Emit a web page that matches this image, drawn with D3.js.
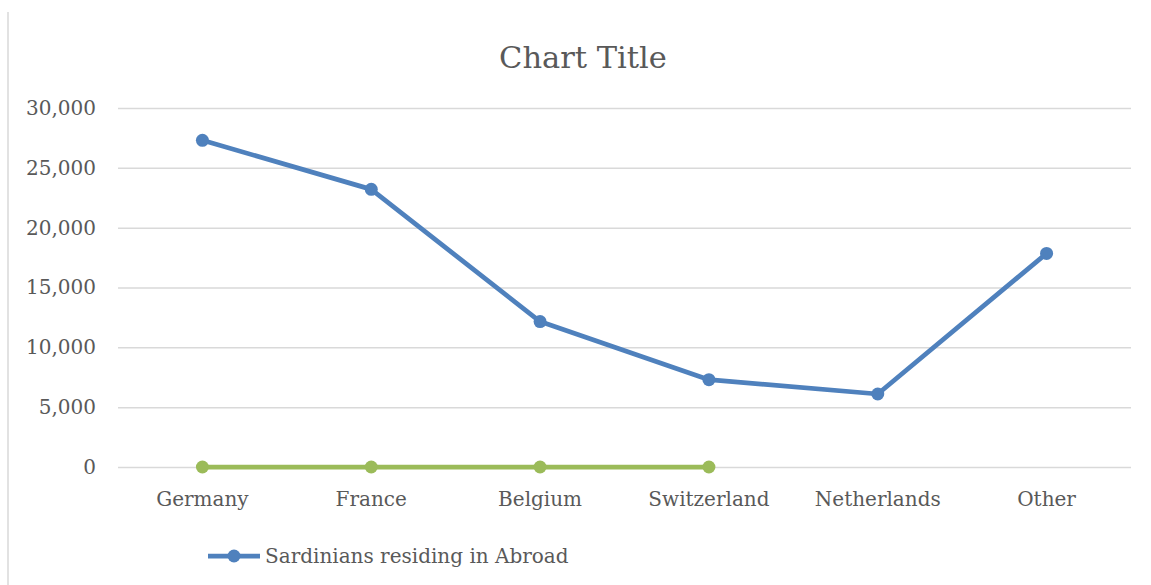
<!DOCTYPE html>
<html>
<head>
<meta charset="utf-8">
<script src="https://cdn.jsdelivr.net/npm/d3@7"></script>
<style>
  html, body { margin: 0; padding: 0; background: #fff; }
  svg { display: block; }
  text { font-family: "DejaVu Serif", "Liberation Serif", serif; fill: #595959; }
</style>
</head>
<body>
<svg id="chart" width="1151" height="585"></svg>
<script>
// Sardinian emigrants by country of residence
const categories = ["Germany", "France", "Belgium", "Switzerland", "Netherlands", "Other"];
const residents = [27300, 23200, 12150, 7300, 6100, 17850];
const secondary = [0, 0, 0, 0, null, null];
const yTicks = [0, 5000, 10000, 15000, 20000, 25000, 30000];
const seriesName = "Sardinians residing in Abroad";
const titleText = "Chart Title";

const svg = d3.select("#chart");
const W = 1151, H = 585;
const plot = { left: 118, right: 1131, top: 108, bottom: 467 };

// frame edge on the left
svg.append("line")
  .attr("x1", 8).attr("x2", 8).attr("y1", 12).attr("y2", H)
  .attr("stroke", "#d9d9d9").attr("stroke-width", 1.5);

const x = d3.scaleBand().domain(categories).range([plot.left, plot.right]);
const y = d3.scaleLinear().domain([0, 30000]).range([plot.bottom, plot.top]);
const cx = d => x(d) + x.bandwidth() / 2;

// title
svg.append("text")
  .attr("x", 583).attr("y", 68)
  .attr("text-anchor", "middle")
  .attr("font-size", 30.5)
  .text(titleText);

// gridlines + value labels
const yAxis = d3.axisLeft(y).tickValues(yTicks)
  .tickSize(-(plot.right - plot.left))
  .tickPadding(22)
  .tickFormat(d3.format(","));
const gy = svg.append("g").attr("transform", `translate(${plot.left},0)`).call(yAxis);
gy.select(".domain").remove();
gy.selectAll(".tick line").attr("stroke", "#d9d9d9").attr("stroke-width", 1.5);
gy.selectAll(".tick text").attr("font-size", 20).attr("fill", "#595959")
  .style("font-family", '"DejaVu Serif", serif');

// category labels
const xAxis = d3.axisBottom(x).tickSize(0).tickPadding(25);
const gx = svg.append("g").attr("transform", `translate(0,${plot.bottom})`).call(xAxis);
gx.select(".domain").remove();
gx.selectAll(".tick text").attr("font-size", 20).attr("fill", "#595959")
  .style("font-family", '"DejaVu Serif", serif');

function drawSeries(values, color) {
  const pts = categories.map((c, i) => ({ c, v: values[i] }));
  const line = d3.line().defined(d => d.v != null).x(d => cx(d.c)).y(d => y(d.v));
  svg.append("path").datum(pts)
    .attr("fill", "none").attr("stroke", color)
    .attr("stroke-width", 4.75).attr("stroke-linejoin", "round").attr("stroke-linecap", "round")
    .attr("d", line);
  svg.append("g").selectAll("circle").data(pts.filter(d => d.v != null)).join("circle")
    .attr("cx", d => cx(d.c)).attr("cy", d => y(d.v)).attr("r", 6.5)
    .attr("fill", color);
}

drawSeries(residents, "#4f81bd");
drawSeries(secondary, "#9bbb59");

// legend
const lg = svg.append("g").attr("transform", "translate(208,556)");
lg.append("line").attr("x1", 0).attr("x2", 52).attr("y1", 0).attr("y2", 0)
  .attr("stroke", "#4f81bd").attr("stroke-width", 4.75);
lg.append("circle").attr("cx", 26).attr("cy", 0).attr("r", 6.5).attr("fill", "#4f81bd");
lg.append("text").attr("x", 57).attr("y", 7).attr("font-size", 20).text(seriesName);
</script>
</body>
</html>
